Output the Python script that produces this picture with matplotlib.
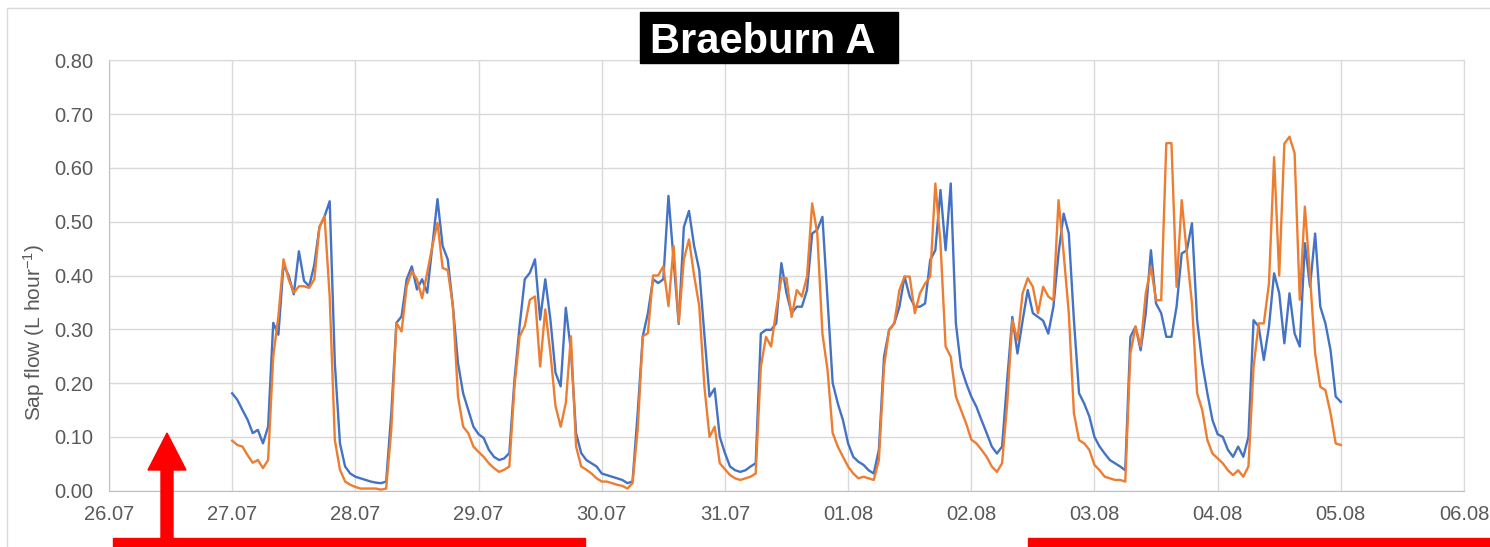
"""
Sap flow of two Braeburn trees (sensor A), hourly readings 27.07 - 05.08.
"""

import numpy as np
import matplotlib
matplotlib.use('Agg')
import matplotlib.pyplot as plt
from matplotlib.patches import Rectangle, Polygon


DATE_LABELS = ['26.07', '27.07', '28.07', '29.07', '30.07', '31.07',
               '01.08', '02.08', '03.08', '04.08', '05.08', '06.08']
Y_TICKS = [0.00, 0.10, 0.20, 0.30, 0.40, 0.50, 0.60, 0.70, 0.80]
FIRST_DAY = 1  # data starts at 27.07 00:00

# hourly values (L hour-1), one row per day, last value = 05.08 00:00
BLUE = [
    0.181, 0.169, 0.150, 0.132, 0.107, 0.113, 0.088, 0.119, 0.312, 0.290, 0.420, 0.400,
    0.365, 0.445, 0.390, 0.380, 0.420, 0.490, 0.510, 0.538, 0.237, 0.088, 0.045, 0.032,
    0.026, 0.023, 0.020, 0.017, 0.015, 0.014, 0.017, 0.144, 0.312, 0.324, 0.393, 0.417,
    0.374, 0.393, 0.368, 0.455, 0.542, 0.455, 0.430, 0.343, 0.237, 0.181, 0.150, 0.119,
    0.105, 0.098, 0.076, 0.063, 0.057, 0.060, 0.070, 0.206, 0.306, 0.393, 0.405, 0.430,
    0.318, 0.393, 0.318, 0.219, 0.194, 0.340, 0.260, 0.107, 0.070, 0.057, 0.051, 0.045,
    0.032, 0.029, 0.026, 0.023, 0.020, 0.014, 0.017, 0.144, 0.287, 0.330, 0.393, 0.386,
    0.393, 0.548, 0.430, 0.310, 0.490, 0.520, 0.455, 0.410, 0.290, 0.175, 0.190, 0.100,
    0.070, 0.045, 0.038, 0.035, 0.038, 0.045, 0.051, 0.292, 0.299, 0.299, 0.311, 0.423,
    0.367, 0.330, 0.342, 0.342, 0.373, 0.478, 0.485, 0.509, 0.354, 0.200, 0.162, 0.131,
    0.088, 0.063, 0.054, 0.048, 0.038, 0.032, 0.076, 0.249, 0.299, 0.311, 0.342, 0.398,
    0.361, 0.342, 0.342, 0.348, 0.429, 0.447, 0.559, 0.447, 0.571, 0.311, 0.230, 0.200,
    0.175, 0.156, 0.131, 0.107, 0.082, 0.069, 0.082, 0.206, 0.323, 0.255, 0.316, 0.373,
    0.330, 0.323, 0.316, 0.292, 0.342, 0.441, 0.515, 0.478, 0.317, 0.181, 0.162, 0.138,
    0.100, 0.082, 0.069, 0.057, 0.051, 0.045, 0.038, 0.286, 0.305, 0.261, 0.330, 0.447,
    0.348, 0.330, 0.286, 0.286, 0.342, 0.441, 0.447, 0.497, 0.317, 0.237, 0.181, 0.131,
    0.105, 0.100, 0.076, 0.063, 0.082, 0.063, 0.100, 0.317, 0.305, 0.243, 0.305, 0.404,
    0.367, 0.274, 0.367, 0.292, 0.268, 0.460, 0.379, 0.478, 0.342, 0.311, 0.261, 0.175,
    0.165,
]
ORANGE = [
    0.093, 0.085, 0.082, 0.066, 0.052, 0.057, 0.042, 0.057, 0.250, 0.324, 0.430, 0.393,
    0.368, 0.380, 0.380, 0.377, 0.393, 0.490, 0.510, 0.360, 0.094, 0.039, 0.017, 0.011,
    0.007, 0.004, 0.004, 0.004, 0.004, 0.002, 0.004, 0.113, 0.312, 0.296, 0.380, 0.408,
    0.393, 0.358, 0.405, 0.455, 0.498, 0.414, 0.410, 0.343, 0.175, 0.119, 0.107, 0.082,
    0.072, 0.063, 0.051, 0.042, 0.035, 0.039, 0.045, 0.194, 0.287, 0.306, 0.355, 0.361,
    0.231, 0.337, 0.256, 0.157, 0.119, 0.163, 0.287, 0.082, 0.045, 0.039, 0.032, 0.023,
    0.017, 0.017, 0.014, 0.011, 0.009, 0.004, 0.014, 0.113, 0.287, 0.293, 0.400, 0.400,
    0.417, 0.343, 0.455, 0.312, 0.430, 0.467, 0.400, 0.343, 0.194, 0.100, 0.119, 0.051,
    0.040, 0.029, 0.023, 0.020, 0.023, 0.026, 0.032, 0.230, 0.286, 0.268, 0.336, 0.395,
    0.395, 0.323, 0.373, 0.361, 0.398, 0.534, 0.478, 0.292, 0.224, 0.107, 0.082, 0.063,
    0.045, 0.032, 0.023, 0.026, 0.023, 0.020, 0.057, 0.230, 0.299, 0.311, 0.373, 0.398,
    0.398, 0.330, 0.367, 0.385, 0.398, 0.571, 0.460, 0.268, 0.249, 0.175, 0.150, 0.125,
    0.095, 0.088, 0.076, 0.063, 0.045, 0.035, 0.051, 0.162, 0.317, 0.280, 0.367, 0.395,
    0.379, 0.330, 0.379, 0.361, 0.354, 0.540, 0.441, 0.330, 0.144, 0.094, 0.088, 0.076,
    0.048, 0.038, 0.026, 0.023, 0.020, 0.020, 0.017, 0.255, 0.305, 0.268, 0.367, 0.416,
    0.354, 0.354, 0.646, 0.646, 0.379, 0.540, 0.441, 0.348, 0.181, 0.150, 0.094, 0.069,
    0.060, 0.051, 0.038, 0.029, 0.038, 0.026, 0.045, 0.230, 0.311, 0.311, 0.385, 0.620,
    0.400, 0.645, 0.658, 0.627, 0.355, 0.528, 0.398, 0.255, 0.193, 0.187, 0.144, 0.088,
    0.085,
]

BLUE_COLOR = '#4472C4'
ORANGE_COLOR = '#ED7D31'
GRID_COLOR = '#D9D9D9'
TEXT_COLOR = '#595959'
TICK_FONT = ['Liberation Sans', 'DejaVu Sans']

W, H = 1490, 547


def px(x, y):
    """Pixel position (from top left) to figure fraction."""
    return x / W, 1 - y / H


def main():
    plt.rcParams['font.family'] = TICK_FONT
    plt.rcParams['mathtext.default'] = 'regular'

    fig = plt.figure(figsize=(W / 100, H / 100), dpi=100)
    ax = fig.add_axes([109 / W, 56.3 / H, 1355 / W, 430.4 / H])

    hours = np.arange(len(BLUE))
    days = FIRST_DAY + hours / 24
    ax.plot(days, BLUE, color=BLUE_COLOR, lw=1.7, solid_joinstyle='round')
    ax.plot(days, ORANGE, color=ORANGE_COLOR, lw=1.7, solid_joinstyle='round')

    ax.set_xlim(0, len(DATE_LABELS) - 1)
    ax.set_ylim(0, 0.8)
    ax.set_xticks(range(len(DATE_LABELS)))
    ax.set_xticklabels(DATE_LABELS)
    ax.set_yticks(Y_TICKS)
    ax.set_yticklabels([f'{v:.2f}' for v in Y_TICKS])
    ax.tick_params(length=0, labelsize=14.5, colors=TEXT_COLOR)
    ax.tick_params(axis='x', pad=10)
    ax.tick_params(axis='y', pad=11)

    ax.grid(True, color=GRID_COLOR, lw=1)
    ax.set_axisbelow(True)
    for side in ['top', 'right']:
        ax.spines[side].set_color(GRID_COLOR)
    for side in ['left', 'bottom']:
        ax.spines[side].set_color('#BFBFBF')

    fig.text(*px(34, 332), 'Sap flow (L hour$^{-1}$)', rotation=90,
             ha='center', va='center', fontsize=15, color=TEXT_COLOR)

    # title in black box
    x0, y0 = px(640, 63)
    fig.patches.append(Rectangle((x0, y0), 258 / W, 51 / H, color='black',
                                 transform=fig.transFigure, zorder=5))
    fig.text(*px(650, 53), 'Braeburn A', color='white', fontsize=30,
             fontweight='bold', ha='left', va='baseline', zorder=6)

    # outer chart frame
    fx, fy = px(7, 560)
    fig.patches.append(Rectangle((fx, fy), 1.0, 552 / H, fill=False,
                                 ec=GRID_COLOR, lw=1,
                                 transform=fig.transFigure, zorder=1))

    # red markers
    red = '#FF0000'
    arrow = [px(167, 433), px(186, 470), px(173, 470), px(173, 547),
             px(161, 547), px(161, 470), px(148, 470)]
    fig.patches.append(Polygon(arrow, closed=True, color=red,
                               transform=fig.transFigure, zorder=7))
    for left, right in [(113, 585), (1028, 1490)]:
        bx, by = px(left, 547)
        fig.patches.append(Rectangle((bx, by), (right - left) / W, 9 / H,
                                     color=red, transform=fig.transFigure,
                                     zorder=7))

    fig.savefig('out.png', dpi=100)


if __name__ == '__main__':
    main()
